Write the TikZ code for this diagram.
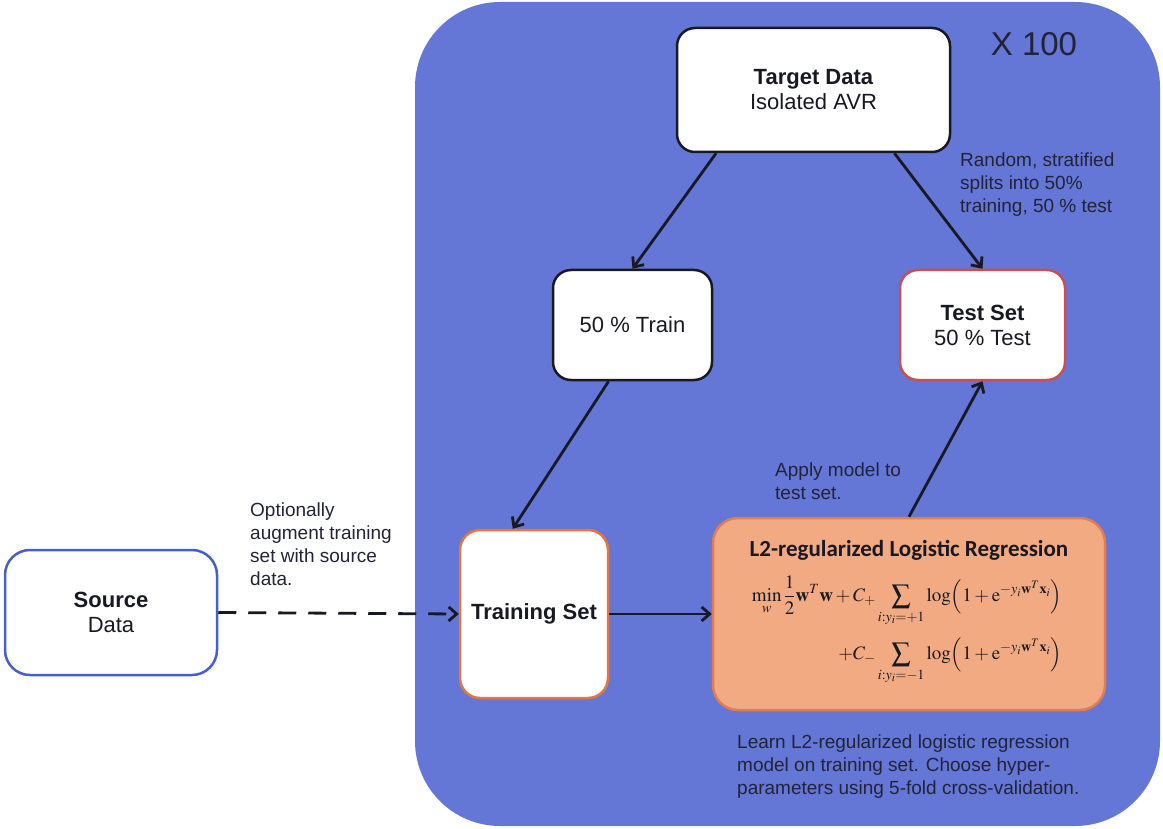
\documentclass[tikz,border=0pt]{standalone}
\usepackage{amsmath}
\usepackage{mathptmx}
\usepackage[no-math]{fontspec}
\setmainfont{Liberation Sans}
\newfontfamily\calibri{Carlito}
\usetikzlibrary{arrows.meta}
\definecolor{loopblue}{RGB}{100,118,214}
\definecolor{sourceblue}{RGB}{70,95,205}
\definecolor{testred}{RGB}{200,80,80}
\definecolor{setorange}{RGB}{225,120,60}
\definecolor{l2fill}{RGB}{242,170,130}
\definecolor{l2edge}{RGB}{225,125,80}
\definecolor{inkgray}{RGB}{25,25,35}
\definecolor{notegray}{RGB}{35,35,55}
\begin{document}
\begin{tikzpicture}[x=1pt,y=-1pt,
    box/.style={draw=inkgray, line width=2.5pt, rounded corners=18pt, fill=white,
        align=center, inner sep=0pt, text=inkgray, font=\fontsize{22}{25}\selectfont},
    arr/.style={draw=inkgray, line width=2.8pt, -{Straight Barb[length=8pt,width=14pt]}},
    note/.style={anchor=north west, align=left, inner sep=0pt, text=notegray,
        font=\fontsize{19}{23}\selectfont}]
    \useasboundingbox (0,0) rectangle (1163,829);
    % repeated experiment (x 100)
    \fill[loopblue, rounded corners=85pt] (415,2) rectangle (1160,826);
    \node[text=notegray, font=\fontsize{33}{33}\selectfont] (reps) at (1034,44) {X 100};

    % boxes
    \node[box, minimum width=273pt, minimum height=124pt] (target) at (813.5,90) {\textbf{Target Data}\\Isolated AVR};
    \node[box, minimum width=159pt, minimum height=110pt] (train) at (632.5,325) {50 \% Train};
    \node[box, draw=testred, minimum width=165pt, minimum height=110pt] (test) at (982.5,325) {\textbf{Test Set}\\50 \% Test};
    \node[box, draw=setorange, minimum width=148pt, minimum height=168pt, rounded corners=20pt] (trainset) at (534,614) {\textbf{Training Set}};
    \node[box, draw=sourceblue, minimum width=212pt, minimum height=125pt, rounded corners=25pt] (source) at (111,612.5) {\textbf{Source}\\Data};
    \node[box, draw=l2edge, fill=l2fill, minimum width=392pt, minimum height=192pt, rounded corners=25pt] (l2) at (909,614) {};
    \node[text=inkgray, font=\calibri\bfseries\fontsize{23}{26}\selectfont] (l2title) at (909,550) {L2-regularized Logistic Regression};
    \node[text=inkgray, font=\fontsize{19}{22}\selectfont] (l2eq) at (907,630) {$\begin{aligned}
        \min_{w}\frac{1}{2}\mathbf{w}^T\mathbf{w}+C_{+}\sum_{i:y_i=+1}\log\Bigl(1+\mathrm{e}^{-y_i\mathbf{w}^T\mathbf{x}_i}\Bigr)\\[8pt]
        +C_{-}\sum_{i:y_i=-1}\log\Bigl(1+\mathrm{e}^{-y_i\mathbf{w}^T\mathbf{x}_i}\Bigr)
    \end{aligned}$};

    % notes
    \node[note] (splitnote) at (960,153) {Random, stratified\\splits into 50\%\\training, 50 \% test};
    \node[note] (augnote) at (250,503) {Optionally\\augment training\\set with source\\data.};
    \node[note] (applynote) at (775,463) {Apply model to\\test set.};
    \node[note] (learnnote) at (737,735) {Learn L2-regularized logistic regression\\model on training set. Choose hyper-\\parameters using 5-fold cross-validation.};

    % connectors
    \draw[arr] (target.213) -- (train.north);
    \draw[arr] (target.322) -- (test.north);
    \draw[arr] (train.247) -- (trainset.104);
    \draw[arr] (l2.north) -- (test.south);
    \draw[arr] (trainset.east) -- (l2.west);
    \draw[arr, dash pattern=on 18pt off 12pt] (source.east) -- (trainset.west);
\end{tikzpicture}
\end{document}
